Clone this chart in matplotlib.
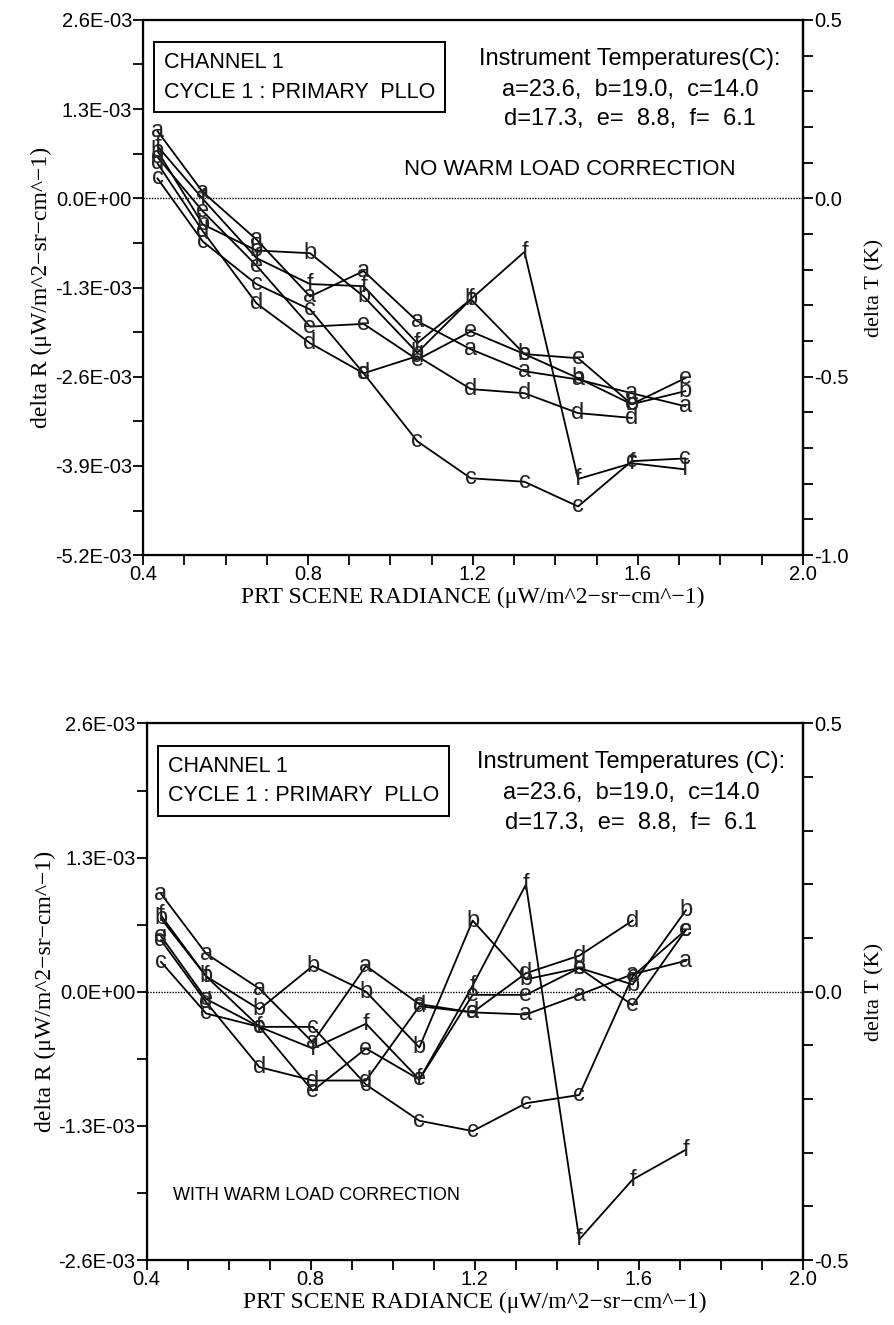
import matplotlib
matplotlib.use("Agg")
from matplotlib import pyplot as plt
from matplotlib.ticker import FixedLocator, MultipleLocator, FuncFormatter

# scene radiance of the calibration points
x = [0.435, 0.545, 0.675, 0.805, 0.935, 1.065, 1.195, 1.325, 1.455, 1.585, 1.715]

# delta R, units of 1E-03, no warm load correction
top_a = [0.98, 0.09, -0.60, -1.43, -1.06, -1.79, -2.20, -2.52, -2.64, -2.84, -3.03]
top_b = [0.69, -0.38, -0.76, -0.80, -1.43, -2.25, -1.47, -2.27, -2.62, -3.00, -2.81]
top_c = [0.29, -0.63, -1.25, -1.62, -2.55, -3.54, -4.08, -4.13, -4.49, -3.83, -3.79]
top_d = [0.51, -0.48, -1.53, -2.11, -2.55, -2.30, -2.78, -2.84, -3.13, -3.20]
top_e = [0.60, -0.19, -0.98, -1.87, -1.83, -2.35, -1.94, -2.27, -2.33, -3.00, -2.62]
top_f = [0.76, -0.01, -0.87, -1.25, -1.28, -2.11, -1.47, -0.78, -4.09, -3.86, -3.95]

# delta R, units of 1E-03, with warm load correction
bot_a = [0.95, 0.37, 0.03, -0.49, 0.25, -0.12, -0.20, -0.22, -0.03, 0.17, 0.30]
bot_b = [0.71, 0.15, -0.17, 0.25, 0.00, -0.54, 0.69, 0.12, 0.23, 0.07, 0.79]
bot_c = [0.29, -0.21, -0.34, -0.34, -0.90, -1.25, -1.35, -1.08, -1.00, 0.15, 0.60]
bot_d = [0.50, -0.10, -0.73, -0.86, -0.86, -0.14, -0.20, 0.18, 0.35, 0.69]
bot_e = [0.54, -0.07, -0.34, -0.96, -0.55, -0.85, -0.03, -0.03, 0.23, -0.13, 0.60]
bot_f = [0.74, 0.15, -0.34, -0.55, -0.31, -0.85, 0.06, 1.04, -2.40, -1.82, -1.53]

letters = ["a", "b", "c", "d", "e", "f"]
top_series = [top_a, top_b, top_c, top_d, top_e, top_f]
bot_series = [bot_a, bot_b, bot_c, bot_d, bot_e, bot_f]

temps1 = "a=23.6,  b=19.0,  c=14.0"
temps2 = "d=17.3,  e=  8.8,  f=  6.1"

SANS = ["Liberation Sans", "DejaVu Sans"]
SERIF = ["Liberation Serif", "DejaVu Serif"]

ulabel = "(\u03bcW/m^2\u2212sr\u2212cm^\u22121)"


def sci(v, pos):
    return "%.1E" % v


def panel(ax, series, ylo, yhi, tlo, thi, tmajor, note, note_xy, note_size,
          note_ha, temp_head):
    for name, vals in zip(letters, series):
        xs = x[:len(vals)]
        ys = [v * 1e-3 for v in vals]
        ax.plot(xs, ys, color="black", lw=1.3, zorder=2)
        for xi, yi in zip(xs, ys):
            ax.text(xi, yi, name, ha="center", va="center", fontsize=17,
                    family=SANS, color="#222222", zorder=3)
    ax.axhline(0, color="black", lw=1.0, ls=(0, (1, 1)), zorder=1)
    ax.set_xlim(0.4, 2.0)
    ax.set_ylim(ylo, yhi)
    ax.xaxis.set_major_locator(FixedLocator([0.4, 0.8, 1.2, 1.6, 2.0]))
    ax.xaxis.set_minor_locator(MultipleLocator(0.1))
    step = 1.3e-3
    n = int(round((yhi - ylo) / step))
    ax.yaxis.set_major_locator(FixedLocator([ylo + i * step for i in range(n + 1)]))
    ax.yaxis.set_minor_locator(MultipleLocator(step / 2))
    ax.yaxis.set_major_formatter(FuncFormatter(sci))
    ax.xaxis.set_major_formatter(FuncFormatter(lambda v, p: "%.1f" % v))
    ax.tick_params(which="both", direction="out", length=7, width=1.3,
                   labelsize=14.5, pad=1)
    ax.tick_params(axis="x", pad=0)
    for lab in ax.get_xticklabels() + ax.get_yticklabels():
        lab.set_family(SANS)
    for s in ax.spines.values():
        s.set_linewidth(1.6)
    ax.set_xlabel("PRT SCENE RADIANCE " + ulabel, family=SERIF, fontsize=17,
                  labelpad=2)
    ax.set_ylabel("delta R " + ulabel, family=SERIF, fontsize=17, labelpad=2)

    r = ax.twinx()
    r.set_ylim(tlo, thi)
    r.yaxis.set_major_locator(FixedLocator(tmajor))
    r.yaxis.set_minor_locator(MultipleLocator(0.1))
    r.yaxis.set_major_formatter(FuncFormatter(lambda v, p: "%.1f" % v))
    r.tick_params(which="both", direction="out", length=7, width=1.3,
                  labelsize=14.5, pad=1)
    for lab in r.get_yticklabels():
        lab.set_family(SANS)
    r.spines["right"].set_linewidth(1.6)
    r.set_ylabel("delta T (K)", family=SERIF, fontsize=16, labelpad=12)

    ax.text(0.032, 0.94, "CHANNEL 1\nCYCLE 1 : PRIMARY  PLLO",
            transform=ax.transAxes, ha="left", va="top", fontsize=15.5,
            family=SANS, linespacing=1.55,
            bbox=dict(boxstyle="square,pad=0.45", fc="white", ec="black", lw=1.4))
    ax.text(0.738, 0.948, temp_head, transform=ax.transAxes, ha="center",
            va="top", fontsize=17, family=SANS)
    ax.text(0.738, 0.89, temps1, transform=ax.transAxes, ha="center",
            va="top", fontsize=17, family=SANS)
    ax.text(0.738, 0.835, temps2, transform=ax.transAxes, ha="center",
            va="top", fontsize=17, family=SANS)
    ax.text(note_xy[0], note_xy[1], note, transform=ax.transAxes,
            ha=note_ha, va="center", fontsize=note_size, family=SANS)


fig = plt.figure(figsize=(8.94, 13.25), dpi=100)
ax1 = fig.add_axes([0.160, 0.581, 0.738, 0.404])
ax2 = fig.add_axes([0.164, 0.049, 0.734, 0.405])

panel(ax1, top_series, -5.2e-3, 2.6e-3, -1.0, 0.5, [0.5, 0.0, -0.5, -1.0],
      "NO WARM LOAD CORRECTION", (0.647, 0.72), 16, "center",
      "Instrument Temperatures(C):")
panel(ax2, bot_series, -2.6e-3, 2.6e-3, -0.5, 0.5, [0.5, 0.0, -0.5],
      "WITH WARM LOAD CORRECTION", (0.04, 0.12), 13, "left",
      "Instrument Temperatures (C):")

fig.savefig("out.png", dpi=100)
